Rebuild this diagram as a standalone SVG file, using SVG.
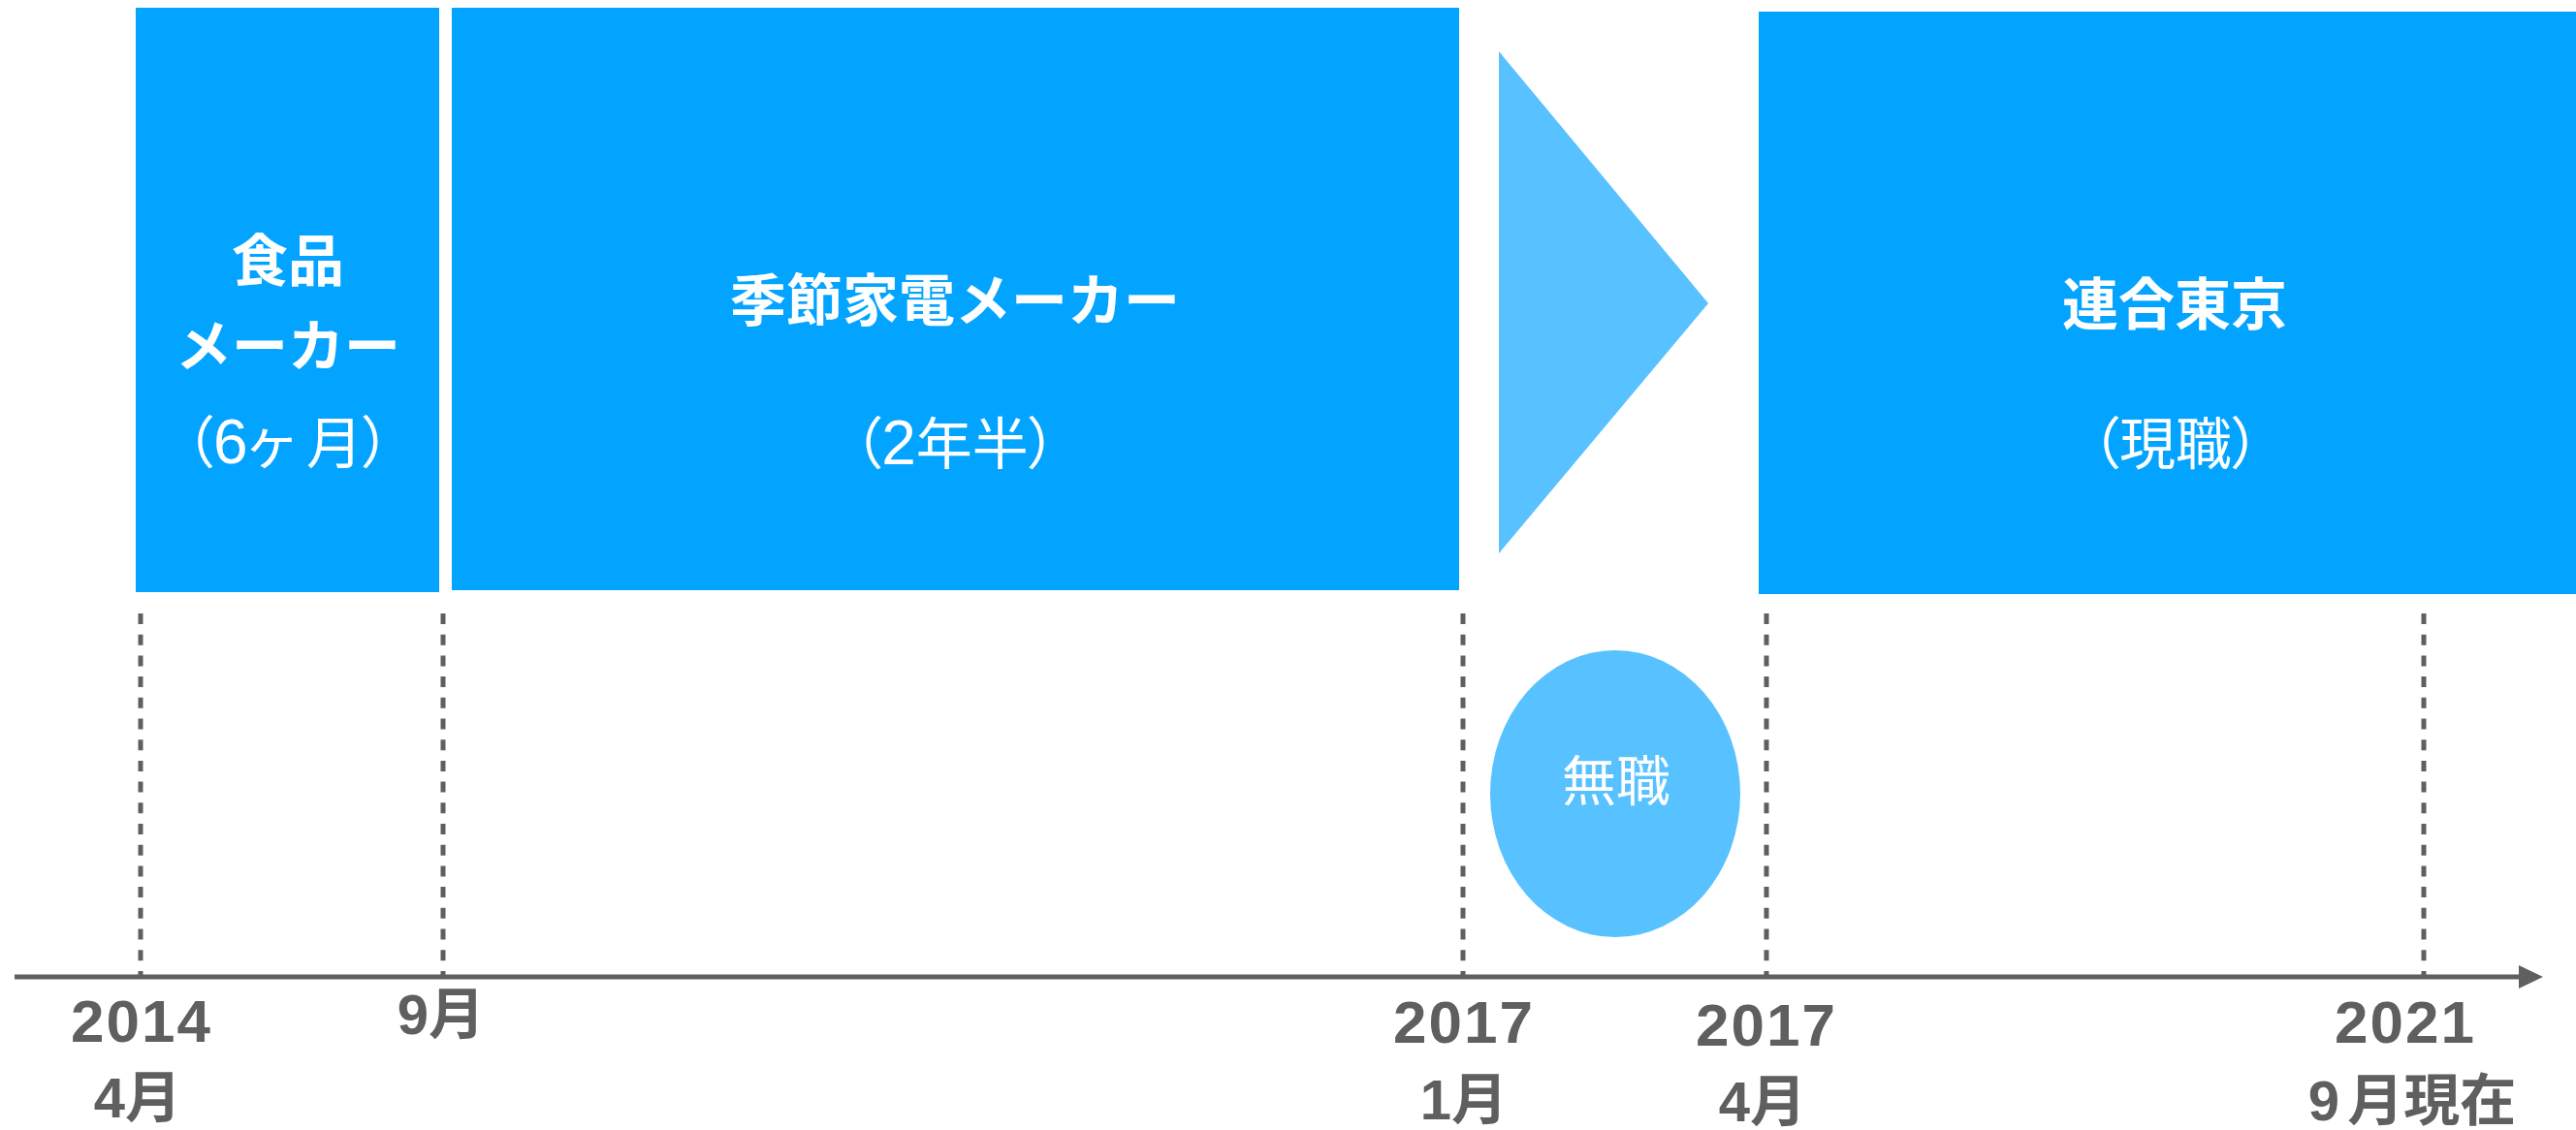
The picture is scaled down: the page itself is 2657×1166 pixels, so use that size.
<svg xmlns="http://www.w3.org/2000/svg" width="2657" height="1166" viewBox="0 0 2657 1166">
<style>
.job{fill:#03A4FF}
.gap{fill:#58C1FF}
.t{fill:#ffffff;font-family:"Noto Sans CJK JP","Noto Sans",sans-serif;text-anchor:middle}
.b{font-weight:700;font-size:58px}
.r{font-weight:400;font-size:58px;font-feature-settings:"palt"}
.d{font-family:"Liberation Sans",sans-serif;font-size:64px}
.ax{fill:#5f5f5f;font-family:"Liberation Sans","Noto Sans CJK JP",sans-serif;font-weight:700;font-size:58px;text-anchor:middle}
.yr{font-size:62px;letter-spacing:2px}
.dash{stroke:#5f5f5f;stroke-width:5;stroke-dasharray:11 10.7;fill:none}
</style>
<rect width="2657" height="1166" fill="#ffffff"/>
<g id="node-food">
<rect class="job" x="140" y="8" width="313" height="603"/>
<text class="t b" x="297" y="290">食品</text>
<text class="t b" x="297" y="378">メーカー</text>
<text class="t r" x="297" y="478">（<tspan class="d">6</tspan>ヶ 月）</text>
</g>
<g id="node-appliance">
<rect class="job" x="466" y="8" width="1039" height="601"/>
<text class="t b" x="985" y="331">季節家電メーカー</text>
<text class="t r" x="985" y="479">（<tspan class="d">2</tspan>年半）</text>
</g>
<g id="node-arrow">
<polygon class="gap" points="1546,53 1762,313 1546,571"/>
</g>
<g id="node-rengo">
<rect class="job" x="1814" y="12" width="843" height="601"/>
<text class="t b" x="2243" y="335">連合東京</text>
<text class="t r" x="2244" y="479">（現職）</text>
</g>
<g id="node-unemployed">
<ellipse class="gap" cx="1666" cy="819" rx="129" ry="148"/>
<text class="t" x="1667" y="826" style="font-size:56px;font-weight:400">無職</text>
</g>
<g id="connectors">
<line class="dash" x1="145" y1="633" x2="145" y2="1006"/>
<line class="dash" x1="457" y1="633" x2="457" y2="1006"/>
<line class="dash" x1="1509" y1="633" x2="1509" y2="1006"/>
<line class="dash" x1="1822" y1="633" x2="1822" y2="1006"/>
<line class="dash" x1="2500" y1="633" x2="2500" y2="1006"/>
<line x1="15" y1="1008" x2="2600" y2="1008" stroke="#5f5f5f" stroke-width="5"/>
<polygon points="2598,996 2623,1008 2598,1020" fill="#5f5f5f"/>
</g>
<g id="labels">
<text class="ax yr" x="146" y="1075">2014</text>
<text class="ax" x="142" y="1153">4月</text>
<text class="ax" x="455" y="1067">9月</text>
<text class="ax yr" x="1510" y="1076">2017</text>
<text class="ax" x="1510" y="1155">1月</text>
<text class="ax yr" x="1822" y="1079">2017</text>
<text class="ax" x="1818" y="1157">4月</text>
<text class="ax yr" x="2481" y="1076">2021</text>
<text class="ax" x="2488" y="1156">9<tspan dx="8">月現在</tspan></text>
</g>
</svg>
